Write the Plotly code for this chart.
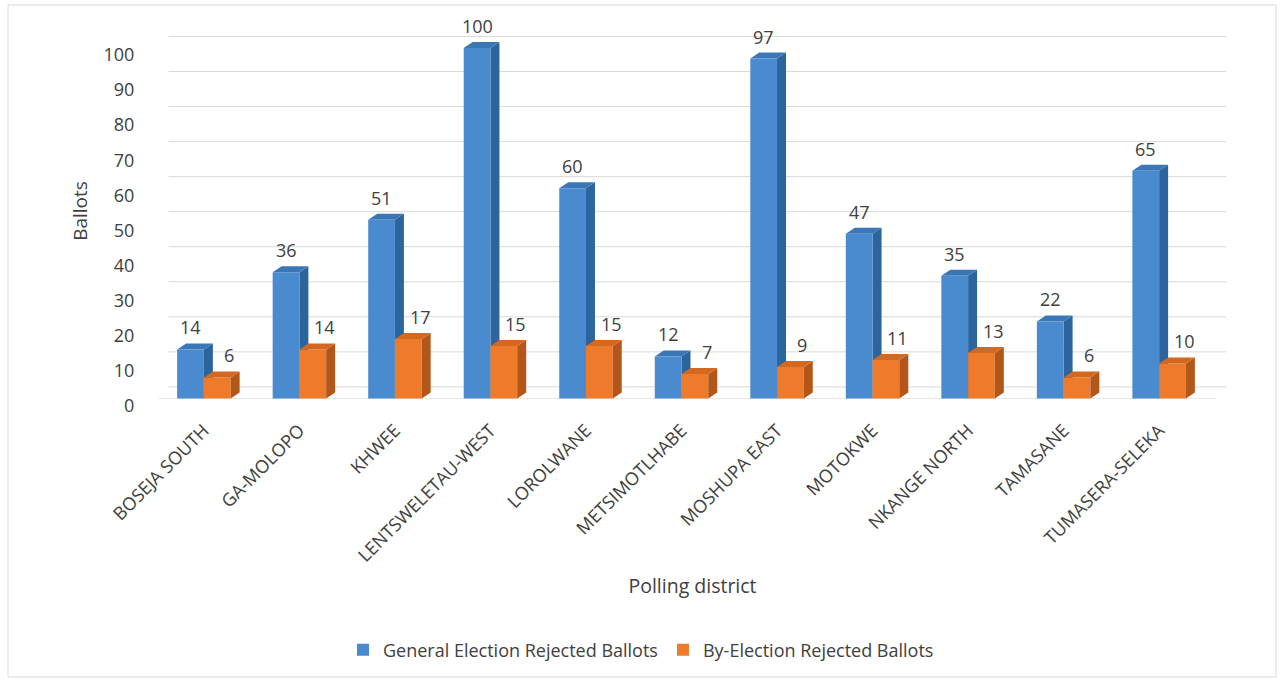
import plotly.graph_objects as go

# ---------------- data ----------------
districts = ["BOSEJA SOUTH", "GA-MOLOPO", "KHWEE", "LENTSWELETAU-WEST", "LOROLWANE",
             "METSIMOTLHABE", "MOSHUPA EAST", "MOTOKWE", "NKANGE NORTH", "TAMASANE",
             "TUMASERA-SELEKA"]
general_rejected = [14, 36, 51, 100, 60, 12, 97, 47, 35, 22, 65]
by_election_rejected = [6, 14, 17, 15, 15, 7, 9, 11, 13, 6, 10]
y_tick_values = [0, 10, 20, 30, 40, 50, 60, 70, 80, 90, 100]

series_names = ["General Election Rejected Ballots", "By-Election Rejected Ballots"]

# ---------------- style ----------------
W, H = 1280, 682
ML, MR, MT, MB = 159, 54, 13, 273
XR = [-0.47, 10.7]
YR = [-3, 110]
BAR_W = 0.28
OFFSETS = [-0.28, 0.0]
DX, DY = 0.094, 1.7          # bar depth (data units)
GRID_LIFT = 3.3              # back wall lift for gridlines
LABEL_DROP = 2.0             # tick labels sit slightly below front scale
FONT = "Open Sans"
TXT = "#404040"
FRONT = ["#4A8ACE", "#EE7A2C"]
SIDE = ["#2C649E", "#B2561A"]
TOP = ["#3B76B6", "#D4681F"]
GRID = "#D9D9D9"

idx = list(range(len(districts)))
fig = go.Figure()

for s, vals in enumerate([general_rejected, by_election_rejected]):
    fig.add_trace(go.Bar(
        x=idx, y=vals, name=series_names[s], width=BAR_W, offset=OFFSETS[s],
        marker=dict(color=FRONT[s], line=dict(width=0)),
        hovertemplate="%{y}<extra>" + series_names[s] + "</extra>",
    ))

shapes = []
# back-wall gridlines
for v in y_tick_values:
    shapes.append(dict(type="line", xref="x", yref="y", layer="below",
                       x0=XR[0] + 0.1, x1=XR[1], y0=v + GRID_LIFT, y1=v + GRID_LIFT,
                       line=dict(color=GRID, width=1)))
# floor front edge
shapes.append(dict(type="line", xref="x", yref="y", layer="below",
                   x0=XR[0], x1=XR[1] - 0.1, y0=0, y1=0,
                   line=dict(color="#E6E6E6", width=1)))

annotations = []
for s, vals in enumerate([general_rejected, by_election_rejected]):
    layer = "below" if s == 0 else "above"
    for i, v in zip(idx, vals):
        xl = i + OFFSETS[s]
        xr = xl + BAR_W
        side = f"M {xr},0 L {xr + DX},{DY} L {xr + DX},{v + DY} L {xr},{v} Z"
        top = f"M {xl},{v} L {xl + DX},{v + DY} L {xr + DX},{v + DY} L {xr},{v} Z"
        shapes.append(dict(type="path", xref="x", yref="y", layer=layer, path=side,
                           fillcolor=SIDE[s], line=dict(width=0)))
        shapes.append(dict(type="path", xref="x", yref="y", layer=layer, path=top,
                           fillcolor=TOP[s], line=dict(width=0)))
        annotations.append(dict(x=xl + BAR_W / 2, y=v, xref="x", yref="y",
                                text=str(v), showarrow=False,
                                xshift=0 if s == 0 else 12, yshift=22,
                                yanchor="middle",
                                font=dict(family=FONT, size=18, color=TXT)))

# outer border of the chart area
pw = W - ML - MR
ph = H - MT - MB
def px_to_paper_x(px):
    return (px - ML) / pw
def px_to_paper_y(py):
    return (H - MB - py) / ph
shapes.append(dict(type="rect", xref="paper", yref="paper", layer="below",
                   x0=px_to_paper_x(8), x1=px_to_paper_x(1276),
                   y0=px_to_paper_y(677), y1=px_to_paper_y(5),
                   line=dict(color="#D9D9D9", width=1), fillcolor="rgba(0,0,0,0)"))

fig.update_layout(
    width=W, height=H,
    margin=dict(l=ML, r=MR, t=MT, b=MB, autoexpand=False),
    paper_bgcolor="white", plot_bgcolor="white",
    barmode="overlay",
    font=dict(family=FONT, color=TXT),
    shapes=shapes, annotations=annotations,
    showlegend=True,
    legend=dict(orientation="h", x=px_to_paper_x(641), xanchor="center",
                y=px_to_paper_y(650), yanchor="middle",
                font=dict(family=FONT, size=18, color=TXT),
                itemwidth=30, bgcolor="rgba(0,0,0,0)"),
    xaxis=dict(range=XR, tickmode="array", tickvals=idx, ticktext=districts,
               tickangle=-45, showgrid=False, zeroline=False, showline=False,
               ticks="outside", ticklen=3, tickcolor="rgba(0,0,0,0)",
               tickfont=dict(family=FONT, size=18, color=TXT),
               title=dict(text="Polling district", standoff=13,
                          font=dict(family=FONT, size=19.5, color=TXT)),
               automargin=False),
    yaxis=dict(range=YR, tickmode="array",
               tickvals=[v - LABEL_DROP for v in y_tick_values],
               ticktext=[str(v) for v in y_tick_values],
               showgrid=False, zeroline=False, showline=False,
               ticks="outside", ticklen=20, tickcolor="rgba(0,0,0,0)",
               tickfont=dict(family=FONT, size=18, color=TXT),
               title=dict(text="Ballots", standoff=10,
                          font=dict(family=FONT, size=19, color=TXT)),
               automargin=False),
)

fig.write_html("out.html", config={"displayModeBar": False},
               post_script="document.body.style.margin='0px';")
